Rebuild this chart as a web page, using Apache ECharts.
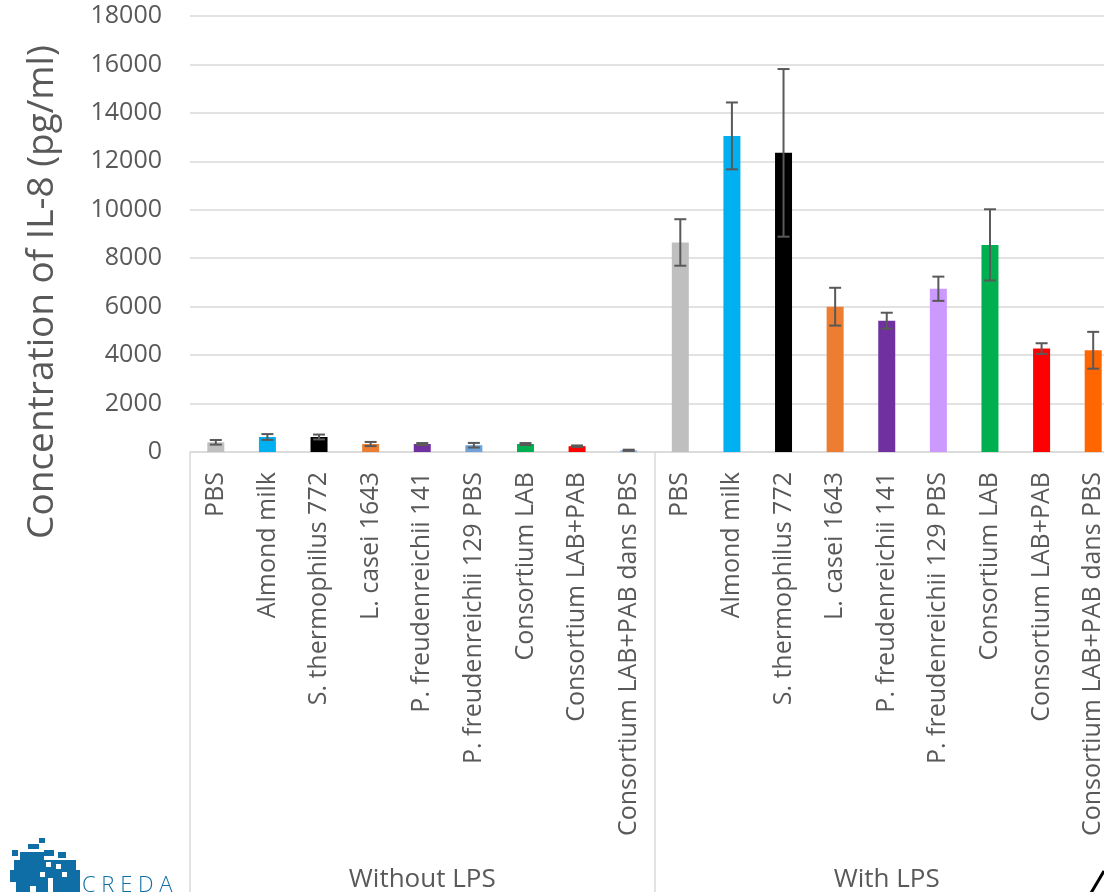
<!DOCTYPE html>
<html>
<head>
<meta charset="utf-8">
<script src="https://cdn.jsdelivr.net/npm/echarts@6/dist/echarts.min.js"></script>
<style>
html,body{margin:0;padding:0;background:#fff;overflow:hidden;}
#chart{width:1130px;height:892px;}
</style>
</head>
<body>
<div id="chart"></div>
<script>
const categories = [
  'PBS','Almond milk','S. thermophilus 772','L. casei 1643','P. freudenreichii 141','P. freudenreichii 129 PBS','Consortium LAB','Consortium LAB+PAB','Consortium LAB+PAB dans PBS',
  'PBS','Almond milk','S. thermophilus 772','L. casei 1643','P. freudenreichii 141','P. freudenreichii 129 PBS','Consortium LAB','Consortium LAB+PAB','Consortium LAB+PAB dans PBS'
];
const groups = ['Without LPS','With LPS'];
const values = [400, 620, 620, 330, 330, 280, 330, 240, 70,
                8650, 13050, 12350, 6000, 5420, 6740, 8550, 4270, 4200];
const errors = [95, 120, 100, 85, 40, 95, 40, 30, 25,
                960, 1380, 3460, 780, 330, 500, 1470, 220, 760];
const barColors = ['#bfbfbf','#00b0f0','#000000','#ed7d31','#7030a0','#6fa3d8','#00b050','#ff0000','#8db4e2',
                   '#bfbfbf','#00b0f0','#000000','#ed7d31','#7030a0','#cc99ff','#00b050','#ff0000','#ff6600'];
const yTicks = {min: 0, max: 18000, interval: 2000};
const yTitle = 'Concentration of IL-8 (pg/ml)';

const chart = echarts.init(document.getElementById('chart'), null, {renderer: 'canvas'});
const font = '"Open Sans", "Noto Sans", sans-serif';
const txt = '#595959';

// logo blocks (decorative)
const logoColor = '#0f6ea6';
const logoRects = [
  [39,838,6,5],[28,844,11,5],[12,850,6,6],[20,852,24,8],[44,850,10,6],[58,852,8,6],
  [14,860,62,10],[10,870,70,12],[16,882,64,10]
];
const logoHoles = [[46,862,5,5],[56,864,5,5],[40,872,5,5],[62,872,5,5],[48,878,5,14],[30,886,6,6]];
const graphics = [];
logoRects.forEach(r => graphics.push({type:'rect', shape:{x:r[0],y:r[1],width:r[2],height:r[3]}, style:{fill:logoColor}, silent:true}));
logoHoles.forEach(r => graphics.push({type:'rect', shape:{x:r[0],y:r[1],width:r[2],height:r[3]}, style:{fill:'#ffffff'}, silent:true}));
graphics.push({type:'text', x:82, y:875, style:{text:'C R E D A', fill:logoColor, font:'300 22px "Open Sans", sans-serif'}, silent:true});
graphics.push({type:'line', shape:{x1:1091,y1:893,x2:1104,y2:871}, style:{stroke:'#000', lineWidth:3}, silent:true});
// y-axis title
graphics.push({type:'text', x:42, y:292, rotation: Math.PI/2,
  style:{text: yTitle, fill: txt, font: '37px "Open Sans", sans-serif', align:'center', verticalAlign:'middle'}, silent:true});

chart.setOption({
  animation: false,
  backgroundColor: '#ffffff',
  graphic: graphics,
  grid: {left: 190, right: 11, top: 16, bottom: 440, containLabel: false, outerBoundsMode: 'none'},
  xAxis: [
    {
      type: 'category', data: categories, position: 'bottom',
      axisLine: {show: true, lineStyle: {color: '#d9d9d9', width: 1.5}},
      axisTick: {show: false},
      axisLabel: {interval: 0, rotate: 90, margin: 20, color: txt, fontSize: 25, fontFamily: font}
    },
    {
      type: 'category', data: groups, position: 'bottom',
      axisLine: {show: false},
      axisTick: {show: true, length: 445, lineStyle: {color: '#d9d9d9', width: 1.5}},
      axisLabel: {interval: 0, margin: 415, color: txt, fontSize: 26, fontFamily: font},
      splitLine: {show: false}
    }
  ],
  yAxis: {
    type: 'value', min: yTicks.min, max: yTicks.max, interval: yTicks.interval,
    axisLine: {show: false}, axisTick: {show: false},
    axisLabel: {margin: 28, color: txt, fontSize: 25, fontFamily: font, formatter: v => String(v)},
    splitLine: {lineStyle: {color: '#d9d9d9', width: 1.5}}
  },
  series: [
    {
      type: 'bar', xAxisIndex: 0, barWidth: 17,
      data: values.map((v, i) => ({value: v, itemStyle: {color: barColors[i]}}))
    },
    {
      type: 'custom', xAxisIndex: 0, z: 5,
      data: values.map((v, i) => [i, v, errors[i]]),
      renderItem: function (params, api) {
        const i = api.value(0), v = api.value(1), e = api.value(2);
        const hi = api.coord([i, v + e]);
        const lo = api.coord([i, v - e]);
        const x = hi[0], hw = 6;
        const st = {stroke: '#595959', lineWidth: 2};
        return {type: 'group', children: [
          {type: 'line', shape: {x1: x, y1: hi[1], x2: x, y2: lo[1]}, style: st},
          {type: 'line', shape: {x1: x - hw, y1: hi[1], x2: x + hw, y2: hi[1]}, style: st},
          {type: 'line', shape: {x1: x - hw, y1: lo[1], x2: x + hw, y2: lo[1]}, style: st}
        ]};
      }
    }
  ]
});
</script>
</body>
</html>
